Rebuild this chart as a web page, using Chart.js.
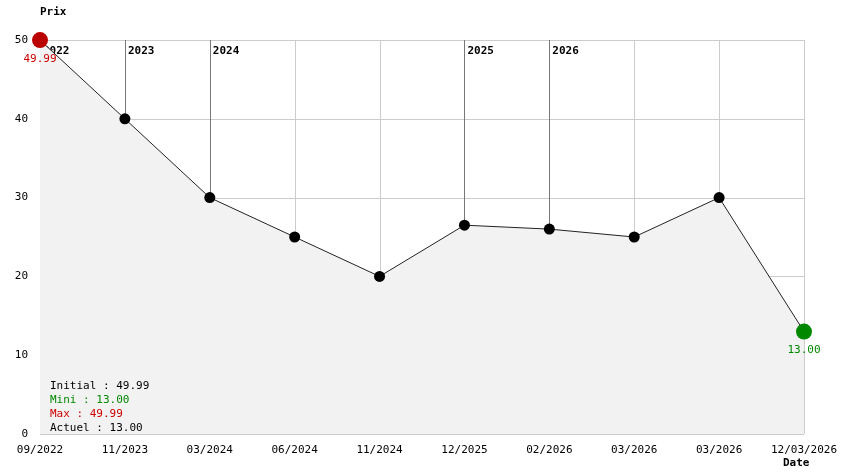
<!DOCTYPE html>
<html><head><meta charset="utf-8">
<script src="https://cdn.jsdelivr.net/npm/chart.js@4"></script>
<style>html,body{margin:0;background:#fff}#w{width:844px;height:474px}</style>
</head><body><div id="w"><canvas id="c"></canvas></div>
<script>
const categories=["09/2022","11/2023","03/2024","06/2024","11/2024","12/2025","02/2026","03/2026","03/2026","12/03/2026"];
const prices=[49.99,40,30,25,20,26.5,26,25,30,13];
const yTicks=[0,10,20,30,40,50];
const yearMarks=[{i:0,label:"2022"},{i:1,label:"2023"},{i:2,label:"2024"},{i:5,label:"2025"},{i:6,label:"2026"}];
const stats=[["Initial : 49.99","#000"],["Mini : 13.00","#008800"],["Max : 49.99","#cc0000"],["Actuel : 13.00","#000"]];
const F="DejaVu Sans Mono, monospace";
const bg={id:"bg",beforeDatasetsDraw(ch){
 const {ctx,scales:{x,y},chartArea:a}=ch;ctx.save();
 ctx.strokeStyle="#cccccc";ctx.lineWidth=1;
 yTicks.forEach(v=>{const p=Math.round(y.getPixelForValue(v))+0.5;ctx.beginPath();ctx.moveTo(a.left,p);ctx.lineTo(a.right,p);ctx.stroke();});
 categories.forEach((c,i)=>{const p=Math.round(x.getPixelForValue(i))+0.5;ctx.beginPath();ctx.moveTo(p,a.top);ctx.lineTo(p,a.bottom);ctx.stroke();});
 ctx.strokeStyle="#777";
 yearMarks.forEach(m=>{const p=Math.round(x.getPixelForValue(m.i))+0.5;ctx.beginPath();ctx.moveTo(p,a.top);ctx.lineTo(p,y.getPixelForValue(prices[m.i]));ctx.stroke();});
 ctx.fillStyle="#000";ctx.font="bold 11px "+F;ctx.textBaseline="middle";ctx.textAlign="left";
 yearMarks.forEach(m=>{ctx.fillText(m.label,x.getPixelForValue(m.i)+3,a.top+11);});
 ctx.font="11px "+F;ctx.textAlign="right";
 yTicks.forEach(v=>ctx.fillText(String(v),a.left-12,y.getPixelForValue(v)));
 ctx.textAlign="center";
 categories.forEach((c,i)=>ctx.fillText(c,x.getPixelForValue(i),a.bottom+16));
 ctx.font="bold 11px "+F;ctx.textAlign="left";
 ctx.fillText("Prix",40,12);ctx.fillText("Date",783,463);
 ctx.restore();
},afterDatasetsDraw(ch){
 const {ctx,scales:{x,y}}=ch;ctx.save();ctx.font="11px "+F;ctx.textAlign="center";ctx.textBaseline="middle";
 ctx.fillStyle="#cc0000";ctx.fillText(prices[0].toFixed(2),x.getPixelForValue(0),y.getPixelForValue(prices[0])+19);
 const n=prices.length-1;ctx.fillStyle="#008800";ctx.fillText(prices[n].toFixed(2),x.getPixelForValue(n),y.getPixelForValue(prices[n])+19);
 ctx.textAlign="left";
 stats.forEach((s,k)=>{ctx.fillStyle=s[1];ctx.fillText(s[0],50,386+k*14);});
 ctx.restore();}};
new Chart(document.getElementById("c"),{type:"line",
 data:{labels:categories,datasets:[{data:prices,borderColor:"#222",borderWidth:1,tension:0,fill:"origin",backgroundColor:"#f2f2f2",clip:false,
  pointBackgroundColor:prices.map((v,i)=>i===0?"#bb0000":i===prices.length-1?"#008800":"#000"),
  pointBorderWidth:0,pointRadius:prices.map((v,i)=>i===0||i===prices.length-1?8:5.5)}]},
 options:{responsive:true,maintainAspectRatio:false,animation:false,layout:{padding:{left:40,right:40,top:40,bottom:40}},
  plugins:{legend:{display:false},tooltip:{enabled:false}},
  scales:{x:{display:false,offset:false},y:{display:false,min:0,max:50}}},
 plugins:[bg]});
</script></body></html>
